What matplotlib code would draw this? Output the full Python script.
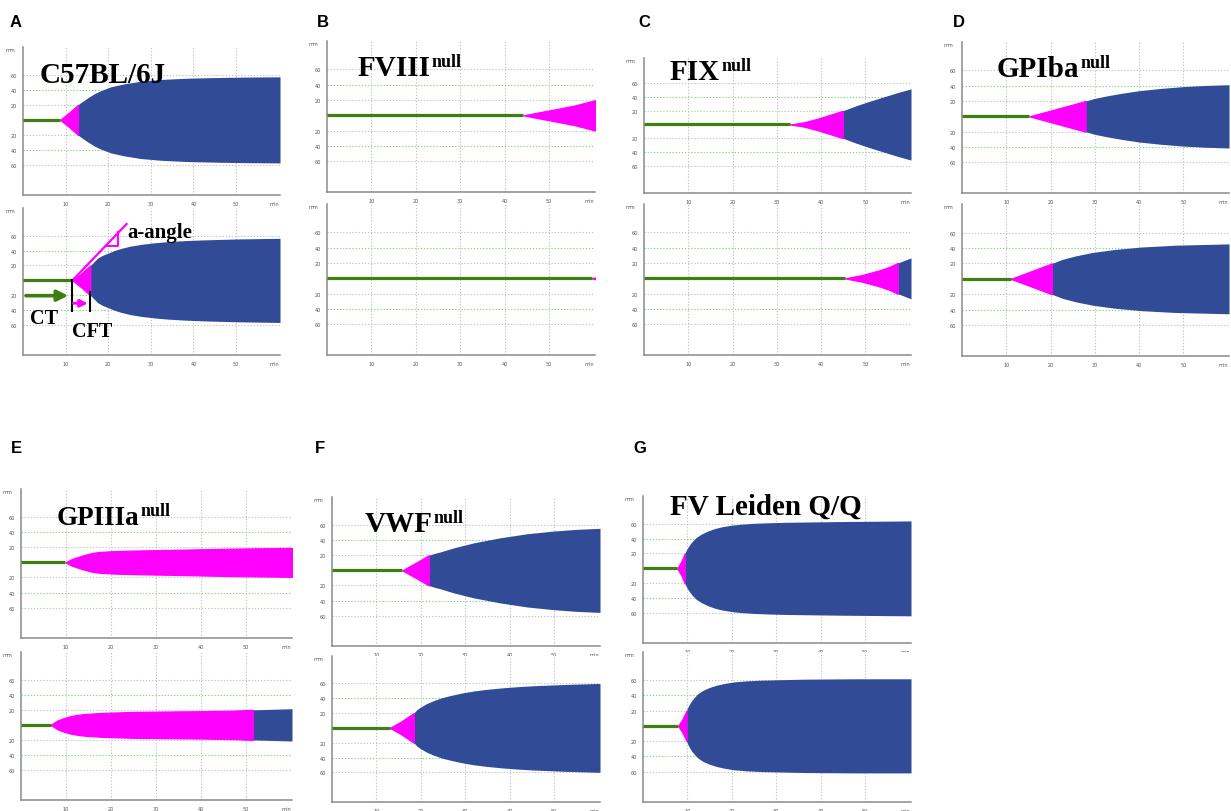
import numpy as np
import matplotlib
matplotlib.use("Agg")
import matplotlib.pyplot as plt

W, H = 1231, 812

# ---------------- data ----------------
panel_letters = ["A", "B", "C", "D", "E", "F", "G"]
panel_names = ["C57BL/6J", "FVIII", "FIX", "GPIba", "GPIIIa", "VWF", "FV Leiden Q/Q"]
panel_sups = ["", "null", "null", "null", "null", "null", ""]

x_tick_values = [10, 20, 30, 40, 50, 59]
x_tick_labels = ["10", "20", "30", "40", "50", "min"]
y_tick_values = [60, 40, 20, -20, -40, -60]
y_tick_labels = ["60", "40", "20", "20", "40", "60"]

# each trace: time (min) from clotting time onward, half-amplitude (mm), time amplitude reaches 20
A_top_t = [8.7, 10.8, 12.9, 13.5, 15.1, 16.7, 18.3, 20.6, 23.8, 27.7, 32.4, 38.7, 45.8, 53.0, 60.3]
A_top_a = [0, 9.5, 20, 22.7, 29, 34.7, 39, 44, 48, 51.5, 53.8, 55.5, 56.4, 57.0, 57.3]
A_top_t20 = 12.9

A_bot_t = [11.6, 13.7, 15.8, 16.5, 17.5, 18.6, 19.9, 21.4, 23.1, 25.3, 27.9, 30.9, 34.2, 38.0, 42.1, 50.0, 60.3]
A_bot_a = [0, 9.5, 20, 24, 29.8, 33.4, 36.4, 39.9, 43, 46, 48.4, 50.4, 52, 53.3, 54.2, 55.5, 56.4]
A_bot_t20 = 15.8

B_top_t = [44.2, 48, 52, 56, 60.3]
B_top_a = [0, 4.3, 8.6, 13.2, 19.8]
B_top_t20 = None

B_bot_t = [59.6, 60.3]
B_bot_a = [0, 1.3]
B_bot_t20 = None

C_top_t = [33, 36, 39, 42, 44.9, 48, 51, 54, 57, 60.3]
C_top_a = [0, 3, 8, 14, 20, 27.5, 34, 40, 46, 52]
C_top_t20 = 44.9

C_bot_t = [45.4, 49.3, 53.0, 55.3, 57.3, 60.3]
C_bot_a = [0, 4.4, 10.2, 14.7, 20, 26.7]
C_bot_t20 = 57.3

D_top_t = [15.2, 21.6, 27.9, 30, 33, 36, 40, 45, 50, 55, 60.3]
D_top_a = [0, 10, 20, 23.5, 27, 30, 33.5, 36.5, 38.8, 40.3, 41.3]
D_top_t20 = 27.9

D_bot_t = [11.0, 15.6, 20.3, 22.7, 25.7, 29.5, 34.7, 40.7, 48.2, 60.3]
D_bot_a = [0, 9.8, 20, 25.3, 29.8, 34.2, 38.2, 41.3, 43.6, 45.3]
D_bot_t20 = 20.3

E_top_t = [9.9, 11.3, 13.6, 15.8, 17.5, 20.2, 25.3, 32.7, 40.1, 47.4, 60.3]
E_top_a = [0, 4.4, 8.9, 12.4, 13.8, 14.7, 15.6, 16.4, 17.3, 18.2, 19.1]
E_top_t20 = None

E_bot_t = [6.6, 8.1, 9.5, 11.0, 12.8, 14.7, 18.3, 25.6, 33.0, 40.3, 47.6, 51.6, 60.3]
E_bot_a = [0, 5.8, 9.0, 11.6, 13.5, 14.7, 16.0, 17.3, 17.8, 18.2, 19.0, 20, 21.5]
E_bot_t20 = 51.6

F_top_t = [15.8, 18.8, 21.8, 23.0, 24.4, 27.4, 31.9, 37.9, 43.9, 49.9, 55.0, 60.3]
F_top_a = [0, 9.8, 20, 22.3, 24.4, 29.8, 36.4, 43.1, 48.4, 52.0, 54.2, 55.6]
F_top_t20 = 21.8

F_bot_t = [13.0, 15.4, 18.4, 19.1, 19.9, 21.3, 22.9, 24.6, 26.6, 29.1, 31.9, 34.8, 37.9, 41.5, 45.4, 52.9, 60.3]
F_bot_a = [0, 8, 20, 24.5, 28, 32.8, 36.9, 40.5, 43.6, 46.9, 49.8, 52, 53.8, 55.5, 56.9, 58.7, 60]
F_bot_t20 = 18.4

G_top_t = [7.7, 8.6, 9.4, 9.8, 10.1, 10.6, 11.2, 12.0, 13.1, 14.5, 16.1, 17.8, 19.8, 22.0, 25.0, 28.5, 32.5, 43.6, 60.3]
G_top_a = [0, 9, 20, 25, 28, 32.5, 36.9, 41.5, 45.8, 49.8, 53.3, 55.8, 57.8, 59.2, 60.4, 61.2, 61.8, 62.7, 63.6]
G_top_t20 = 9.4

G_bot_t = [7.9, 8.9, 9.8, 10.1, 10.5, 11.0, 11.6, 12.4, 13.5, 14.9, 16.5, 18.4, 20.6, 23.3, 26.5, 36.2, 47.4, 60.3]
G_bot_a = [0, 9, 20, 24.5, 28.9, 33.5, 37.8, 42.5, 46.7, 50.3, 53.3, 55.8, 57.8, 59.1, 60, 61.3, 61.8, 61.8]
G_bot_t20 = 9.8

# annotation values for panel A (bottom trace)
A_ct = 11.6
A_cft_end = 15.8
A_alpha_end = [24.3, 75.6]

traces = [
    [(A_top_t, A_top_a, A_top_t20), (A_bot_t, A_bot_a, A_bot_t20)],
    [(B_top_t, B_top_a, B_top_t20), (B_bot_t, B_bot_a, B_bot_t20)],
    [(C_top_t, C_top_a, C_top_t20), (C_bot_t, C_bot_a, C_bot_t20)],
    [(D_top_t, D_top_a, D_top_t20), (D_bot_t, D_bot_a, D_bot_t20)],
    [(E_top_t, E_top_a, E_top_t20), (E_bot_t, E_bot_a, E_bot_t20)],
    [(F_top_t, F_top_a, F_top_t20), (F_bot_t, F_bot_a, F_bot_t20)],
    [(G_top_t, G_top_a, G_top_t20), (G_bot_t, G_bot_a, G_bot_t20)],
]

# ---------------- layout (pixels) ----------------
# per panel: (x_left, x_right, top_y0, top_y1, bot_y0, bot_y1)
rects = [
    (23, 280, 48, 196, 209, 356),
    (327, 595, 42, 193, 205, 356),
    (644, 911, 59, 194, 205, 356),
    (962, 1229, 43, 194, 205, 357),
    (21, 292, 490, 639, 653, 801),
    (332, 600, 498, 647, 657, 803),
    (643, 911, 497, 644, 653, 803),
]
letter_pos = [(10, 27), (317, 27), (638, 27), (953, 27), (11, 453), (315, 453), (633, 453)]
title_pos = [(40, 83), (358, 76), (670, 80), (997, 77), (57, 525), (365, 532), (670, 515)]
title_sizes = [21, 21, 21, 21, 19.5, 21, 21]

GREEN = "#3f7f12"
MAGENTA = "#ff00ff"
NAVY = "#314b97"
GRID_GRAY = "#c4c4c4"
GRID_GREEN = "#86d68a"
AXIS_GRAY = "#8a8a8a"
TXT_GRAY = "#555555"
XMAX = 60.3
YMIN, YMAX = -100, 97

fig = plt.figure(figsize=(W / 100, H / 100), dpi=100)


def px_axes(x0, x1, y0, y1):
    return fig.add_axes([x0 / W, 1 - y1 / H, (x1 - x0) / W, (y1 - y0) / H])


def style_axes(ax):
    ax.set_xlim(0, XMAX)
    ax.set_ylim(YMIN, YMAX)
    for s in ["top", "right"]:
        ax.spines[s].set_visible(False)
    for s in ["left", "bottom"]:
        ax.spines[s].set_color(AXIS_GRAY)
        ax.spines[s].set_linewidth(1.1)
    for v in y_tick_values:
        c = GRID_GREEN if abs(v) == 40 else GRID_GRAY
        ax.axhline(v, color=c, lw=0.8, ls=(0, (1.2, 1.6)), zorder=0)
    for v in x_tick_values[:-1]:
        ax.axvline(v, color=GRID_GRAY, lw=0.8, ls=(0, (1.2, 1.6)), zorder=0)
    ax.set_yticks(y_tick_values, y_tick_labels)
    ax.set_xticks(x_tick_values, x_tick_labels)
    ax.tick_params(length=0, labelsize=3.6, labelcolor=TXT_GRAY, pad=4)
    ax.text(-0.032, 0.985, "mm", transform=ax.transAxes, fontsize=3.6,
            color=TXT_GRAY, ha="right", va="center")


def draw_trace(ax, t, a, t20):
    t = np.asarray(t, float)
    a = np.asarray(a, float)
    ax.plot([0, t[0]], [0, 0], color=GREEN, lw=2.3, solid_capstyle="butt", zorder=3)
    if t20 is None:
        k = len(t)
    else:
        k = int(np.argmin(np.abs(t - t20))) + 1
    if t20 is not None:
        ax.fill_between(t[k - 1:], -a[k - 1:], a[k - 1:], color=NAVY, lw=0, zorder=2)
    ax.fill_between(t[:k], -a[:k], a[:k], facecolor=MAGENTA, edgecolor=MAGENTA,
                    lw=0.9, zorder=2.5)


axes_list = []
for i, (x0, x1, ty0, ty1, by0, by1) in enumerate(rects):
    ax_t = px_axes(x0, x1, ty0, ty1)
    ax_b = px_axes(x0, x1, by0, by1)
    for ax, tr in zip((ax_t, ax_b), traces[i]):
        style_axes(ax)
        draw_trace(ax, *tr)
    axes_list.append((ax_t, ax_b))

# ---------------- panel A annotations ----------------
ax_ = axes_list[0][1]
ax_.plot([A_ct, A_alpha_end[0]], [0, A_alpha_end[1]], color=MAGENTA, lw=1.6, zorder=5, clip_on=False)
slope = A_alpha_end[1] / (A_alpha_end[0] - A_ct)
ya, xb = 46.5, 22.4
xa = A_ct + ya / slope
yb = (xb - A_ct) * slope
ax_.plot([xa, xb, xb], [ya, ya, yb], color=MAGENTA, lw=1.5, zorder=5)
ax_.text(24.6, 57.8, "a-angle", family="Liberation Serif", weight="bold", fontsize=15,
         ha="left", va="baseline", zorder=6)
ax_.plot([A_ct, A_ct], [0, -40.6], color="black", lw=1.5, zorder=5)
ax_.plot([A_cft_end, A_cft_end], [-16, -40.6], color="black", lw=1.5, zorder=5)
ax_.annotate("", xy=(10.6, -20.5), xytext=(0.7, -20.5),
             arrowprops=dict(arrowstyle="-|>", color=GREEN, lw=2.6, mutation_scale=16,
                             shrinkA=0, shrinkB=0), zorder=6)
ax_.annotate("", xy=(15.2, -30.7), xytext=(11.8, -30.7),
             arrowprops=dict(arrowstyle="-|>", color=MAGENTA, lw=2.0, mutation_scale=11,
                             shrinkA=0, shrinkB=0), zorder=6)
ax_.text(1.6, -57, "CT", family="Liberation Serif", weight="bold", fontsize=14.5,
         ha="left", va="baseline")
ax_.text(11.5, -74.5, "CFT", family="Liberation Serif", weight="bold", fontsize=14.5,
         ha="left", va="baseline")

# ---------------- letters and titles ----------------
for (lx, ly), lab in zip(letter_pos, panel_letters):
    fig.text(lx / W, 1 - ly / H, lab, family="Liberation Sans", weight="bold",
             fontsize=12, ha="left", va="baseline")

title_texts = []
for (tx, ty), name, fs in zip(title_pos, panel_names, title_sizes):
    tt = fig.text(tx / W, 1 - ty / H, name, family="Liberation Serif", weight="bold",
                  fontsize=fs, ha="left", va="baseline")
    title_texts.append(tt)

fig.canvas.draw()
renderer = fig.canvas.get_renderer()
for tt, (tx, ty), sup in zip(title_texts, title_pos, panel_sups):
    if not sup:
        continue
    bb = tt.get_window_extent(renderer)
    fig.text((bb.x1 + 1) / W, 1 - (ty - 9) / H, sup, family="Liberation Serif",
             weight="bold", fontsize=13, ha="left", va="baseline")

fig.savefig("out.png", dpi=100)
